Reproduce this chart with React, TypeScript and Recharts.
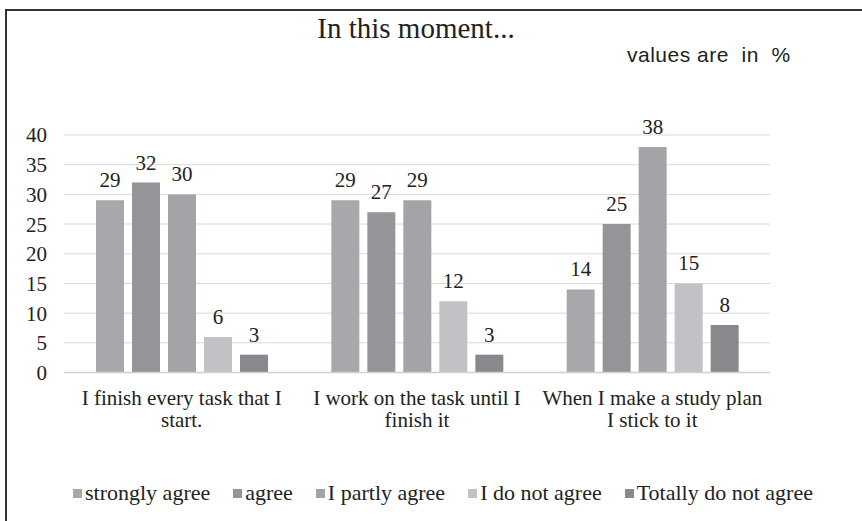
import React from 'react';
import { BarChart, Bar, XAxis, YAxis, CartesianGrid, LabelList } from 'recharts';

const categories = [
  'I finish every task that I\nstart.',
  'I work on the task until I\nfinish it',
  'When I make a study plan\nI stick to it',
];
const stronglyAgree = [29, 29, 14];
const agree = [32, 27, 25];
const partlyAgree = [30, 29, 38];
const doNotAgree = [6, 12, 15];
const totallyDoNotAgree = [3, 3, 8];

const seriesKeys = ['s0', 's1', 's2', 's3', 's4'];
const seriesNames = ['strongly agree', 'agree', 'I partly agree', 'I do not agree', 'Totally do not agree'];
const seriesColors = ['#a7a8ab', '#949598', '#a3a4a7', '#c1c2c5', '#88898c'];
const yTicks = [0, 5, 10, 15, 20, 25, 30, 35, 40];
const titleText = 'In this moment...';
const noteText = 'values are  in  %';

const data = categories.map((c, i) => ({
  category: c,
  s0: stronglyAgree[i],
  s1: agree[i],
  s2: partlyAgree[i],
  s3: doNotAgree[i],
  s4: totallyDoNotAgree[i],
}));

const SERIF = '"Liberation Serif", "Times New Roman", serif';
const SANS = '"Liberation Sans", Arial, sans-serif';

const XTick = (props: any) => {
  const { x, y, payload } = props;
  const lines = String(payload.value).split('\n');
  return (
    <text x={x} y={y} textAnchor="middle" fill="#222" fontFamily={SERIF} fontSize={21}>
      {lines.map((l, i) => (
        <tspan key={i} x={x} dy={i === 0 ? 32 : 22}>{l}</tspan>
      ))}
    </text>
  );
};

export default function App() {
  return (
    <div style={{ position: 'fixed', left: 0, top: 0, width: 862, height: 521, background: '#fff', overflow: 'hidden' }}>
      <svg width={862} height={521} style={{ position: 'absolute', left: 0, top: 0 }}>
        <path d="M6,521 V10 H862" fill="none" stroke="#333" strokeWidth={2} />
      </svg>
      <div style={{ position: 'absolute', left: 0, width: 832, top: 12, textAlign: 'center', fontFamily: SERIF, fontSize: 29, color: '#222', lineHeight: '33px' }}>{titleText}</div>
      <div style={{ position: 'absolute', left: 627, top: 43, fontFamily: SANS, fontSize: 21, letterSpacing: 0.5, color: '#222', whiteSpace: 'pre', lineHeight: '24px' }}>{noteText}</div>
      <div style={{ position: 'absolute', left: 0, top: 0, width: 862, height: 521 }}>
        <BarChart width={862} height={521} data={data} margin={{ top: 135, right: 92, bottom: 88.5, left: 0 }} barSize={28} barGap={8}>
          <CartesianGrid vertical={false} stroke="#d9d9d9" strokeWidth={1} />
          <XAxis dataKey="category" height={60} tickLine={false} tickSize={0} tickMargin={0} axisLine={{ stroke: '#d0d0d0', strokeWidth: 1.5 }} tick={<XTick />} interval={0} />
          <YAxis width={64} domain={[0, 40]} ticks={yTicks} tickLine={false} axisLine={false} tickSize={0} tickMargin={17} tick={{ fontFamily: SERIF, fontSize: 21, fill: '#222' }} interval={0} />
          {seriesKeys.map((k, i) => (
            <Bar key={k} dataKey={k} name={seriesNames[i]} fill={seriesColors[i]} isAnimationActive={false}>
              <LabelList dataKey={k} position="top" offset={13} fontFamily={SERIF} fontSize={21} fill="#222" />
            </Bar>
          ))}
        </BarChart>
      </div>
      <div style={{ position: 'absolute', left: 0, width: 862, top: 481, display: 'flex', justifyContent: 'flex-start', paddingLeft: 73, boxSizing: 'border-box', fontFamily: SERIF, fontSize: 22, color: '#222', lineHeight: '24px' }}>
        {seriesNames.map((n, i) => (
          <div key={n} style={{ display: 'flex', alignItems: 'center', marginRight: i < seriesNames.length - 1 ? 23 : 0, whiteSpace: 'nowrap' }}>
            <span style={{ display: 'inline-block', width: 9, height: 9, background: seriesColors[i], marginRight: 3 }} />
            <span>{n}</span>
          </div>
        ))}
      </div>
    </div>
  );
}
